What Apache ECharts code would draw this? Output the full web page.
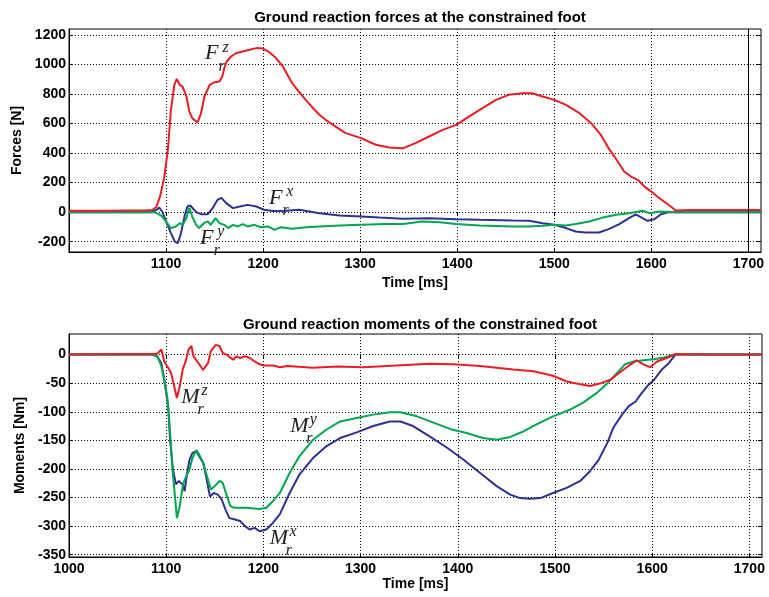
<!DOCTYPE html>
<html>
<head>
<meta charset="utf-8">
<script src="https://cdn.jsdelivr.net/npm/echarts@6/dist/echarts.min.js"></script>
<style>
  html, body { margin: 0; padding: 0; background: #fff; }
  #chart { width: 769px; height: 597px; }
</style>
</head>
<body>
<div id="chart"></div>
<script>
// ---- data (time in ms) ----
var tFz = [1000, 1040, 1080, 1086, 1090, 1094, 1098, 1102, 1105, 1108.5, 1111, 1114, 1117, 1121, 1124, 1127, 1132.5, 1136, 1139.5, 1145, 1150, 1155, 1158, 1160, 1162.5, 1167, 1172, 1179, 1186, 1194, 1199.5, 1206, 1213, 1220, 1230, 1237, 1244, 1251, 1258, 1265, 1272, 1285, 1301, 1316, 1330, 1344, 1357, 1371, 1385, 1399, 1412, 1426, 1440, 1453, 1467, 1477, 1488, 1500, 1512, 1526, 1538, 1548, 1556, 1563, 1572, 1579, 1586, 1593, 1600, 1606, 1613, 1620, 1625, 1640, 1680, 1713];
var vFz = [10, 10, 12, 15, 35, 110, 230, 430, 690, 860, 902, 862, 850, 783, 681, 636, 607, 670, 783, 862, 880, 885, 918, 975, 1020, 1054, 1076, 1088, 1099, 1112, 1108, 1085, 1045, 990, 873, 815, 760, 707, 659, 622, 591, 535, 501, 456, 437, 432, 467, 512, 557, 591, 647, 704, 760, 794, 805, 805, 783, 760, 726, 670, 602, 523, 433, 366, 275, 241, 219, 173, 139, 106, 72, 38, 11, 15, 15, 15];

var tFx = [1000, 1085, 1090, 1093, 1096, 1100, 1105, 1109, 1112, 1115, 1119, 1122, 1125, 1131, 1136, 1143, 1148, 1153, 1157, 1162, 1169, 1176, 1184, 1193, 1201, 1210, 1224, 1237, 1258, 1279, 1301, 1320, 1344, 1371, 1399, 1423, 1457, 1474, 1488, 1500, 1512, 1522, 1532, 1546, 1556, 1567, 1577, 1584, 1591, 1596, 1603, 1610, 1618, 1640, 1713];
var vFx = [0, 0, 15, 31, 4, -63, -142, -199, -210, -154, -30, 38, 45, 0, -14, -14, 27, 83, 97, 61, 27, 38, 49, 38, 16, 8, 10, 16, -7, -23, -30, -37, -45, -41, -48, -52, -57, -59, -75, -86, -108, -131, -138, -138, -115, -81, -41, -15, -41, -59, -48, -14, 0, 0, 0];

var tFy = [1000, 1086, 1089, 1095, 1100, 1105, 1110, 1114, 1117, 1121, 1124, 1127, 1131, 1134, 1139, 1143, 1146, 1151, 1155, 1160, 1164, 1169, 1174, 1179, 1184, 1191, 1198, 1205, 1212, 1218, 1230, 1244, 1258, 1279, 1301, 1327, 1344, 1364, 1382, 1399, 1423, 1457, 1474, 1488, 1500, 1512, 1522, 1536, 1550, 1564, 1577, 1591, 1598, 1608, 1625, 1713];
var vFy = [0, 0, -3, -23, -63, -110, -97, -75, -86, -41, 30, -30, -86, -108, -75, -63, -86, -41, -75, -86, -108, -86, -97, -81, -97, -86, -102, -97, -120, -102, -113, -102, -97, -91, -86, -81, -81, -63, -68, -81, -91, -97, -97, -93, -86, -90, -81, -63, -37, -18, -7, 9, -7, 4, 0, 0];

var tMz = [1000, 1050, 1086, 1091, 1095, 1098, 1102, 1105, 1109, 1111, 1114, 1117, 1120, 1123, 1126, 1128, 1132, 1134, 1138, 1140, 1143, 1146, 1151, 1155, 1158, 1162, 1165, 1169, 1172, 1176, 1181, 1186, 1191, 1196, 1201, 1210, 1217, 1225, 1251, 1276, 1303, 1337, 1371, 1395, 1423, 1457, 1478, 1498, 1512, 1526, 1536, 1547, 1557, 1567, 1578, 1584, 1591, 1598, 1605, 1615, 1624, 1660, 1713];
var vMz = [0, 1, 1, 2, 9, -12, -23, -32, -61, -76, -55, -26, -12, 9, 15, -3, -12, -17, -27, -29, -15, 6, 17, 15, 3, 0, -4, -9, -3, -6, -3, -6, -12, -17, -19, -19, -22, -20, -23, -21, -22, -19, -16, -17, -20, -26, -29, -37, -47, -52, -55, -50, -44, -31, -17, -10, -17, -22, -12, -6, 1, 0, 0];

var tMy = [1000, 1086, 1091, 1095, 1098, 1101, 1102.8, 1104.5, 1106.2, 1109, 1111, 1114, 1117, 1119, 1121, 1124, 1127, 1131, 1134, 1138, 1141, 1146, 1150, 1155, 1158, 1162, 1166, 1170, 1182, 1196, 1203, 1210, 1217, 1227, 1237, 1251, 1265, 1279, 1296, 1313, 1330, 1341, 1358, 1375, 1392, 1409, 1426, 1440, 1454, 1468, 1481, 1498, 1516, 1529, 1543, 1554, 1564, 1572, 1581, 1591, 1602, 1612, 1624, 1660, 1713];
var vMy = [0, 0, -3, -20, -44, -73, -108, -149, -195, -248, -286, -265, -230, -219, -221, -201, -181, -167, -175, -189, -207, -236, -230, -221, -224, -245, -265, -268, -268, -270, -268, -256, -242, -207, -178, -149, -131, -117, -111, -105, -101, -101, -108, -119, -130, -137, -146, -149, -144, -134, -122, -108, -96, -84, -67, -50, -32, -17, -12, -10, -8, -5, 0, 0, 0];

var tMx = [1000, 1086, 1091, 1095, 1098, 1102, 1104, 1107, 1110, 1113, 1117, 1119, 1121, 1124, 1127, 1131, 1134, 1138, 1141, 1145, 1149, 1153, 1157, 1161, 1165, 1170, 1176, 1181, 1186, 1191, 1196, 1203, 1210, 1217, 1227, 1237, 1251, 1265, 1279, 1296, 1313, 1330, 1341, 1354, 1371, 1389, 1406, 1423, 1440, 1454, 1464, 1474, 1485, 1498, 1512, 1526, 1536, 1545, 1554, 1560, 1569, 1576, 1583, 1588, 1595, 1602, 1610, 1617, 1624, 1660, 1713];
var vMx = [0, 0, -4, -15, -44, -90, -149, -201, -227, -221, -227, -239, -213, -184, -172, -169, -178, -189, -213, -248, -242, -245, -253, -271, -286, -288, -291, -300, -306, -303, -309, -306, -294, -279, -242, -210, -181, -160, -146, -136, -125, -117, -117, -125, -143, -163, -184, -207, -230, -245, -251, -252, -251, -242, -233, -221, -204, -184, -154, -128, -105, -90, -82, -70, -55, -44, -26, -15, 0, 0, 0];

// ticks
var ticksForce = [-200, 0, 200, 400, 600, 800, 1000, 1200];
var ticksMoment = [-350, -300, -250, -200, -150, -100, -50, 0];
var ticksTimeTop = [1100, 1200, 1300, 1400, 1500, 1600, 1700];
var ticksTimeBottom = [1000, 1100, 1200, 1300, 1400, 1500, 1600, 1700];

// annotation anchors [superscript, time, value]
var forceNotes = [['z', 1147, 1074], ['x', 1213, 97], ['y', 1142, -177]];
var momentNotes = [['z', 1125, -74], ['y', 1237, -125], ['x', 1216, -321]];

var RED = '#ec1c24', BLUE = '#2e3192', GREEN = '#00a651';
var SANS = 'Liberation Sans';

function zip(t, v) {
  var out = [];
  for (var i = 0; i < t.length; i++) out.push([t[i], v[i]]);
  return out;
}

var txt = { color: '#000', fontSize: 14, fontWeight: 'bold', fontFamily: SANS };
var dotted = { show: true, lineStyle: { color: '#000', width: 1, type: [1, 2] } };
function plain(v) { return String(v); }

function timeAxis(gi, ticks, gap) {
  return {
    type: 'value', gridIndex: gi, min: 1000, max: 1713,
    name: 'Time [ms]', nameLocation: 'middle', nameGap: gap, nameTextStyle: txt,
    axisLine: { onZero: false, lineStyle: { color: '#000', width: 1 } },
    axisTick: { inside: true, length: 4, customValues: ticks, lineStyle: { color: '#000' } },
    axisLabel: Object.assign({ customValues: ticks, margin: 5, formatter: plain }, txt),
    splitLine: dotted
  };
}
function valueAxis(gi, lo, hi, ticks, name, gap) {
  return {
    type: 'value', gridIndex: gi, min: lo, max: hi,
    name: name, nameLocation: 'middle', nameGap: gap, nameTextStyle: txt,
    axisLine: { onZero: false, lineStyle: { color: '#000', width: 1 } },
    axisTick: { inside: true, length: 4, customValues: ticks, lineStyle: { color: '#000' } },
    axisLabel: Object.assign({ customValues: ticks, margin: 3, formatter: plain }, txt),
    splitLine: dotted
  };
}
// mirror axes for the box ticks (top / right)
function mirrorX(gi, ticks) {
  return { type: 'value', gridIndex: gi, position: 'top', min: 1000, max: 1713,
    axisLine: { show: false }, axisLabel: { show: false }, splitLine: { show: false },
    axisTick: { inside: true, length: 4, customValues: ticks, lineStyle: { color: '#000' } } };
}
function mirrorY(gi, lo, hi, ticks) {
  return { type: 'value', gridIndex: gi, position: 'right', min: lo, max: hi,
    axisLine: { show: false }, axisLabel: { show: false }, splitLine: { show: false },
    axisTick: { inside: true, length: 4, customValues: ticks, lineStyle: { color: '#000' } } };
}

function notes(letter, list) {
  var items = [];
  list.forEach(function (n) {
    var base = { coord: [n[1], n[2]], symbolSize: 0 };
    items.push(Object.assign({ label: { formatter: letter, fontSize: 22, offset: [0, 0] } }, base));
    items.push(Object.assign({ label: { formatter: 'r', fontSize: 16, offset: [10, 13] } }, base));
    items.push(Object.assign({ label: { formatter: n[0], fontSize: 16, offset: [14, -6] } }, base));
  });
  return {
    symbol: 'circle', silent: true, animation: false,
    label: { show: true, position: 'inside', color: '#222', fontFamily: 'Liberation Serif', fontStyle: 'italic' },
    data: items
  };
}

function line(name, xi, yi, data, color, extra) {
  return Object.assign({
    name: name, type: 'line', xAxisIndex: xi, yAxisIndex: yi, data: data,
    showSymbol: false, smooth: false, animation: false,
    lineStyle: { color: color, width: 2 }, itemStyle: { color: color }
  }, extra || {});
}

var chart = echarts.init(document.getElementById('chart'));
chart.setOption({
  backgroundColor: '#fff',
  animation: false,
  title: [
    { text: 'Ground reaction forces at the constrained foot', left: 415, top: 5, textAlign: 'center',
      textStyle: Object.assign({}, txt, { fontSize: 15 }) },
    { text: 'Ground reaction moments of the constrained foot', left: 415, top: 312, textAlign: 'center',
      textStyle: Object.assign({}, txt, { fontSize: 15 }) }
  ],
  grid: [
    { left: 69, top: 29, width: 692, height: 223, show: true, borderColor: '#000', borderWidth: 1 },
    { left: 69, top: 334, width: 693, height: 223, show: true, borderColor: '#000', borderWidth: 1 }
  ],
  xAxis: [
    timeAxis(0, ticksTimeTop, 24),
    timeAxis(1, ticksTimeBottom, 20),
    mirrorX(0, ticksTimeTop),
    mirrorX(1, ticksTimeBottom)
  ],
  yAxis: [
    valueAxis(0, -270, 1240, ticksForce, 'Forces [N]', 39),
    valueAxis(1, -354, 36, ticksMoment, 'Moments [Nm]', 39),
    mirrorY(0, -270, 1240, ticksForce),
    mirrorY(1, -354, 36, ticksMoment)
  ],
  series: [
    line('Fx', 0, 0, zip(tFx, vFx), BLUE),
    line('Fy', 0, 0, zip(tFy, vFy), GREEN),
    line('Fz', 0, 0, zip(tFz, vFz), RED, {
      markPoint: notes('F', forceNotes),
      markLine: { silent: true, symbol: 'none', animation: false, label: { show: false },
        lineStyle: { color: '#000', type: 'solid', width: 1 }, data: [{ xAxis: 1700 }] }
    }),
    line('Mx', 1, 1, zip(tMx, vMx), BLUE),
    line('My', 1, 1, zip(tMy, vMy), GREEN),
    line('Mz', 1, 1, zip(tMz, vMz), RED, { markPoint: notes('M', momentNotes) })
  ]
});
</script>
</body>
</html>
